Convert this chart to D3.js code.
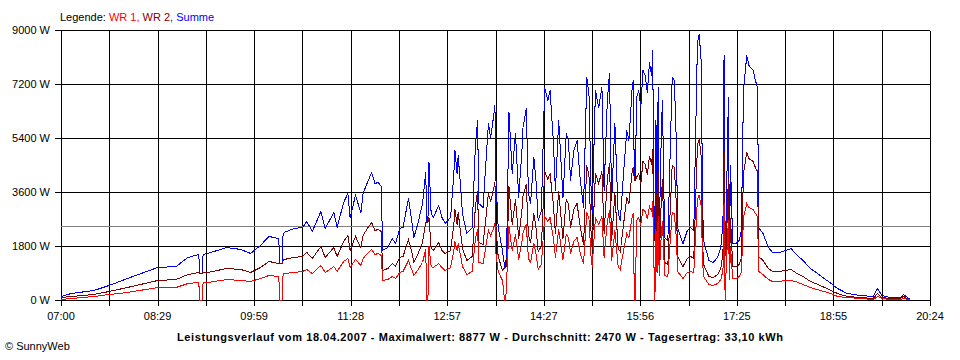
<!DOCTYPE html>
<html><head><meta charset="utf-8">
<script src="https://cdn.jsdelivr.net/npm/d3@7"></script>
<style>
body{margin:0;background:#fff}
svg{display:block}
text{font-family:"Liberation Sans",Arial,sans-serif;font-size:11px}
</style>
</head><body>
<svg id="c" width="960" height="360"></svg>
<script>
// minutes after 07:00
const times = [0,9,30,44,61,89,106,117,127,128,130,131,135,153,166,175,184,192,201,202,204,205,206,215,223,227,232,240,244,252,255,261,265,267,272,277,279,283,287,290,293,296,297,302,306,309,313,316,321,324,326,330,334,337,338,339,340,342,344,349,352,355,360,363,364,366,367,369,371,375,380,383,385,386,390,392,395,397,399,401,402,404,408,410,411,412,414,417,420,423,426,427,430,432,434,437,439,441,444,447,450,452,455,457,460,464,467,469,471,474,477,480,483,486,488,490,491,494,497,500,502,505,507,509,512,515,517,520,523,525,528,529,530,531,532,534,536,538,540,542,544,546,547,548,549,550,551,552,553,555,556,558,561,565,567,569,570,575,579,582,585,588,589,590,592,593,594,599,603,607,610,612,613,614,615,617,618,619,621,624,627,629,631,634,636,640,642,644,645,649,654,658,664,670,675,679,686,693,702,712,718,727,739,751,755,759,767,776,779,784,785];
const summe = [140,220,330,500,720,1090,1130,1420,1520,890,900,1530,1560,1760,1690,1560,1830,2130,2060,1240,1250,2200,2280,2390,2430,2640,2300,2980,2390,2920,2440,3280,3560,2780,3500,2940,3560,3940,4280,3890,3940,3800,1670,1780,2060,1890,2390,2440,3390,2670,2110,2610,3220,4280,2600,2600,4590,2890,2780,3170,2780,2560,2780,4220,5000,4220,4830,3890,2890,2220,2440,5220,6000,3220,3110,4220,5890,5440,5940,6500,4000,2440,1670,1100,1100,2000,6280,4220,5560,3440,5000,5780,6390,3560,3220,4780,4000,2670,3000,7110,6670,7000,5330,3670,6000,3440,5560,5330,4000,5000,5330,4000,3110,7440,6890,3670,2890,7000,6440,7110,3670,6670,7560,3330,5890,2890,2670,4220,5670,5330,7110,7330,4000,4000,6780,7000,6440,7670,7500,6940,7940,7500,8330,3440,2000,6000,2330,7110,2110,5670,6670,2110,2000,7440,7330,5110,2440,1890,2330,2440,2330,7890,8780,8877,7890,3440,2000,1330,1280,1440,1780,2560,8170,1500,2890,6780,1780,4500,1890,1890,2000,2330,7000,8170,7830,7670,7330,7110,2440,2220,1780,1610,1610,1670,1720,1560,1330,1060,830,560,390,220,170,130,390,170,90,110,200,80,60];
const wr1 = [50,80,120,190,280,420,440,560,600,0,0,600,610,690,670,620,720,840,810,0,0,870,900,940,960,1040,910,1180,940,1150,960,1300,1400,1100,1380,1160,1400,1550,1690,1540,1560,1500,660,700,810,750,940,960,1340,1050,830,1030,1270,1690,0,0,1810,1140,1100,1250,1100,1010,1100,1670,1970,1670,1900,1540,1140,880,960,2060,2370,1270,1230,1670,2330,2150,2350,2570,1580,960,660,0,0,790,2480,1670,2200,1360,1980,2280,2520,1410,1270,1890,1580,1050,1190,2810,2630,2770,2110,1450,2370,1360,2200,2110,1580,1980,2110,1580,1230,2940,2720,1450,1140,2770,2540,2810,1450,2630,2990,1320,2330,1140,1050,1670,2240,2110,2810,2900,0,0,2680,2770,2540,3030,2960,2740,3140,2960,3290,1360,0,2370,920,2810,830,2240,2630,830,790,2940,2900,2020,960,750,920,960,920,3120,3470,3510,3120,1360,790,530,510,570,700,1010,3230,0,1140,2680,700,1780,750,750,790,920,2770,3230,3090,3030,2900,2810,960,880,700,640,640,660,680,620,530,420,330,220,150,90,70,50,150,70,35,45,80,30,20];
const wr2 = [90,140,210,310,440,670,690,860,920,890,900,930,950,1070,1020,940,1110,1290,1250,1240,1250,1330,1380,1450,1470,1600,1390,1800,1450,1770,1480,1980,2160,1680,2120,1780,2160,2390,2590,2350,2380,2300,1010,1080,1250,1140,1450,1480,2050,1620,1280,1580,1950,2590,2600,2600,2780,1750,1680,1920,1680,1550,1680,2550,3030,2550,2930,2350,1750,1340,1480,3160,3630,1950,1880,2550,3560,3290,3590,3930,2420,1480,1010,1100,1100,1210,3800,2550,3360,2080,3020,3500,3870,2150,1950,2890,2420,1620,1810,4300,4040,4230,3220,2220,3630,2080,3360,3220,2420,3020,3220,2420,1880,4500,4170,2220,1750,4230,3900,4300,2220,4040,4570,2010,3560,1750,1620,2550,3430,3220,4300,4430,4000,4000,4100,4230,3900,4640,4540,4200,4800,4540,5040,2080,2000,3630,1410,4300,1280,3430,4040,1280,1210,4500,4430,3090,1480,1140,1410,1480,1410,4770,5310,5367,4770,2080,1210,800,770,870,1080,1550,4940,1500,1750,4100,1080,2720,1140,1140,1210,1410,4230,4940,4740,4640,4430,4300,1480,1340,1080,970,970,1010,1040,940,800,640,500,340,240,130,100,80,240,100,55,65,120,50,40];
const yTicks = [0,1800,3600,5400,7200,9000];
const xTickLabels = ["07:00","08:29","09:59","11:28","12:57","14:27","15:56","17:25","18:55","20:24"];
const average = 2470;
const totalMinutes = 804;
const legendParts = [["Legende: ","#000"],["WR 1, ","#ff0000"],["WR 2, ","#800000"],["Summe","#0000ff"]];
const title = "Leistungsverlauf vom 18.04.2007 - Maximalwert: 8877 W - Durchschnitt: 2470 W - Tagesertrag: 33,10 kWh";

const svg = d3.select("#c");
const L=61,R=930,T=30,B=300;
const x = d3.scaleLinear().domain([0,totalMinutes]).range([L,R]);
const y = d3.scaleLinear().domain([0,9000]).range([B,T]);
const px = v => Math.round(v)+0.5;
const xTickVals = d3.range(19).map(i => i*totalMinutes/18);

const g = svg.append("g").attr("shape-rendering","crispEdges");
// horizontal grid
g.selectAll("line.h").data(yTicks).join("line")
  .attr("x1",L-6).attr("x2",R).attr("y1",d=>px(y(d))).attr("y2",d=>px(y(d)))
  .attr("stroke","#000");
// vertical grid
g.selectAll("line.v").data(xTickVals).join("line")
  .attr("x1",d=>px(x(d))).attr("x2",d=>px(x(d))).attr("y1",px(T)).attr("y2",B+6)
  .attr("stroke","#000");
// average line
g.append("line").attr("x1",L).attr("x2",R).attr("y1",px(y(average))).attr("y2",px(y(average)))
  .attr("stroke","#808080");

// y labels
svg.append("g").selectAll("text").data(yTicks).join("text")
  .attr("x",50).attr("y",d=>y(d)+4).attr("text-anchor","end").text(d=>d+" W");
// x labels
svg.append("g").selectAll("text").data(xTickLabels).join("text")
  .attr("x",(d,i)=>x(xTickVals[i*2])).attr("y",320).attr("text-anchor","middle").text(d=>d);

// series
const series = [[summe,"#0000ff"],[wr2,"#800000"],[wr1,"#ff0000"]];
const line = d3.line().x((d,i)=>x(times[i])+0.5).y(d=>Math.round(y(d))+0.5);
svg.append("g").selectAll("path").data(series).join("path")
  .attr("d",d=>line(d[0])).attr("fill","none").attr("stroke",d=>d[1]).attr("stroke-width",1)
  .attr("shape-rendering","crispEdges");

// legend
const lg = svg.append("text").attr("x",60).attr("y",21);
lg.selectAll("tspan").data(legendParts).join("tspan").attr("fill",d=>d[1]).text(d=>d[0]);

// title
svg.append("text").attr("x",480).attr("y",341).attr("text-anchor","middle")
  .attr("font-weight","bold").attr("textLength",606).attr("lengthAdjust","spacing").text(title);
// footer
svg.append("text").attr("x",5).attr("y",350).text("\u00A9 SunnyWeb");
</script>
</body></html>
